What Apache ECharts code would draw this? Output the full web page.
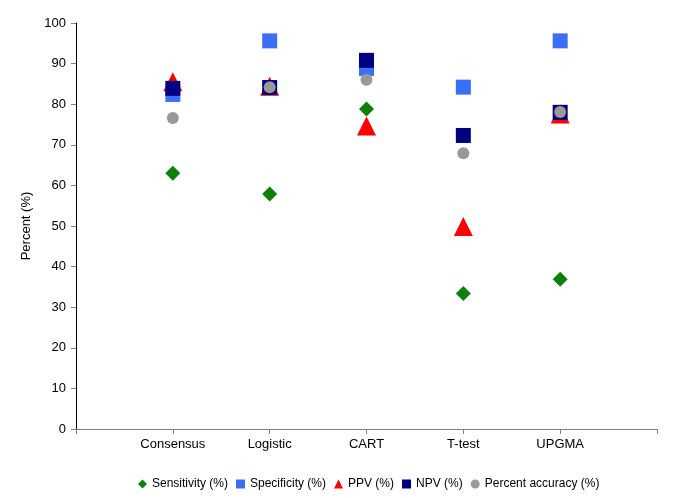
<!DOCTYPE html>
<html>
<head>
<meta charset="utf-8">
<script src="https://cdn.jsdelivr.net/npm/echarts@6/dist/echarts.min.js"></script>
<style>html,body{margin:0;padding:0;background:#fff;}#c{width:685px;height:498px;}</style>
</head>
<body>
<div id="c"></div>
<script>
const categories = ['Consensus', 'Logistic', 'CART', 'T-test', 'UPGMA'];
const sensitivity = [63.0, 57.9, 78.8, 33.4, 36.9];
const specificity = [82.4, 95.6, 88.8, 84.2, 95.6];
const ppv = [85.5, 84.4, 74.6, 49.9, 77.6];
const npv = [83.9, 84.1, 90.8, 72.3, 78.0];
const accuracy = [76.6, 84.2, 86.0, 67.9, 78.1];
const yTicks = [0, 10, 20, 30, 40, 50, 60, 70, 80, 90, 100];

const xData = [''].concat(categories, ['']);
const pad = arr => ['-'].concat(arr, ['-']);
const font = 'Liberation Sans, Arial, sans-serif';

const chart = echarts.init(document.getElementById('c'), null, {renderer: 'canvas'});
chart.setOption({
  animation: false,
  backgroundColor: '#fff',
  grid: {left: 76, right: 28, top: 23, bottom: 69},
  legend: {
    bottom: 3, left: 133,
    itemWidth: 9, itemHeight: 9, itemGap: 8,
    textStyle: {fontFamily: font, fontSize: 12, color: '#000'},
    data: [
      {name: 'Sensitivity (%)', icon: 'diamond'},
      {name: 'Specificity (%)', icon: 'rect'},
      {name: 'PPV (%)', icon: 'triangle'},
      {name: 'NPV (%)', icon: 'rect'},
      {name: 'Percent accuracy (%)', icon: 'circle'}
    ]
  },
  xAxis: {
    type: 'category', data: xData, boundaryGap: false,
    axisLine: {lineStyle: {color: '#808080', width: 1}},
    axisTick: {show: true, length: 5, inside: false, lineStyle: {color: '#808080'}},
    axisLabel: {fontFamily: font, fontSize: 13, color: '#000', margin: 9, interval: 0},
    splitLine: {show: false}
  },
  yAxis: {
    type: 'value', min: yTicks[0], max: yTicks[yTicks.length - 1], interval: 10,
    name: 'Percent (%)', nameLocation: 'middle', nameGap: 41, nameRotate: 90,
    nameTextStyle: {fontFamily: font, fontSize: 13, color: '#000'},
    axisLine: {show: true, lineStyle: {color: '#000', width: 1}},
    axisTick: {show: true, length: 5, lineStyle: {color: '#808080'}},
    axisLabel: {fontFamily: font, fontSize: 13, color: '#000', margin: 10},
    splitLine: {show: false}
  },
  series: [
    {name: 'Sensitivity (%)', type: 'scatter', symbol: 'diamond', symbolSize: 15,
     itemStyle: {color: '#0b800b', opacity: 1}, data: pad(sensitivity)},
    {name: 'Specificity (%)', type: 'scatter', symbol: 'rect', symbolSize: 15,
     itemStyle: {color: '#3a6ff7', opacity: 1}, data: pad(specificity)},
    {name: 'PPV (%)', type: 'scatter', symbol: 'triangle', symbolSize: [19, 19],
     itemStyle: {color: '#ff0000', opacity: 1}, data: pad(ppv)},
    {name: 'NPV (%)', type: 'scatter', symbol: 'rect', symbolSize: 15,
     itemStyle: {color: '#000080', opacity: 1}, data: pad(npv)},
    {name: 'Percent accuracy (%)', type: 'scatter', symbol: 'circle', symbolSize: 12,
     itemStyle: {color: '#999999', opacity: 1}, data: pad(accuracy)}
  ]
});
</script>
</body>
</html>
